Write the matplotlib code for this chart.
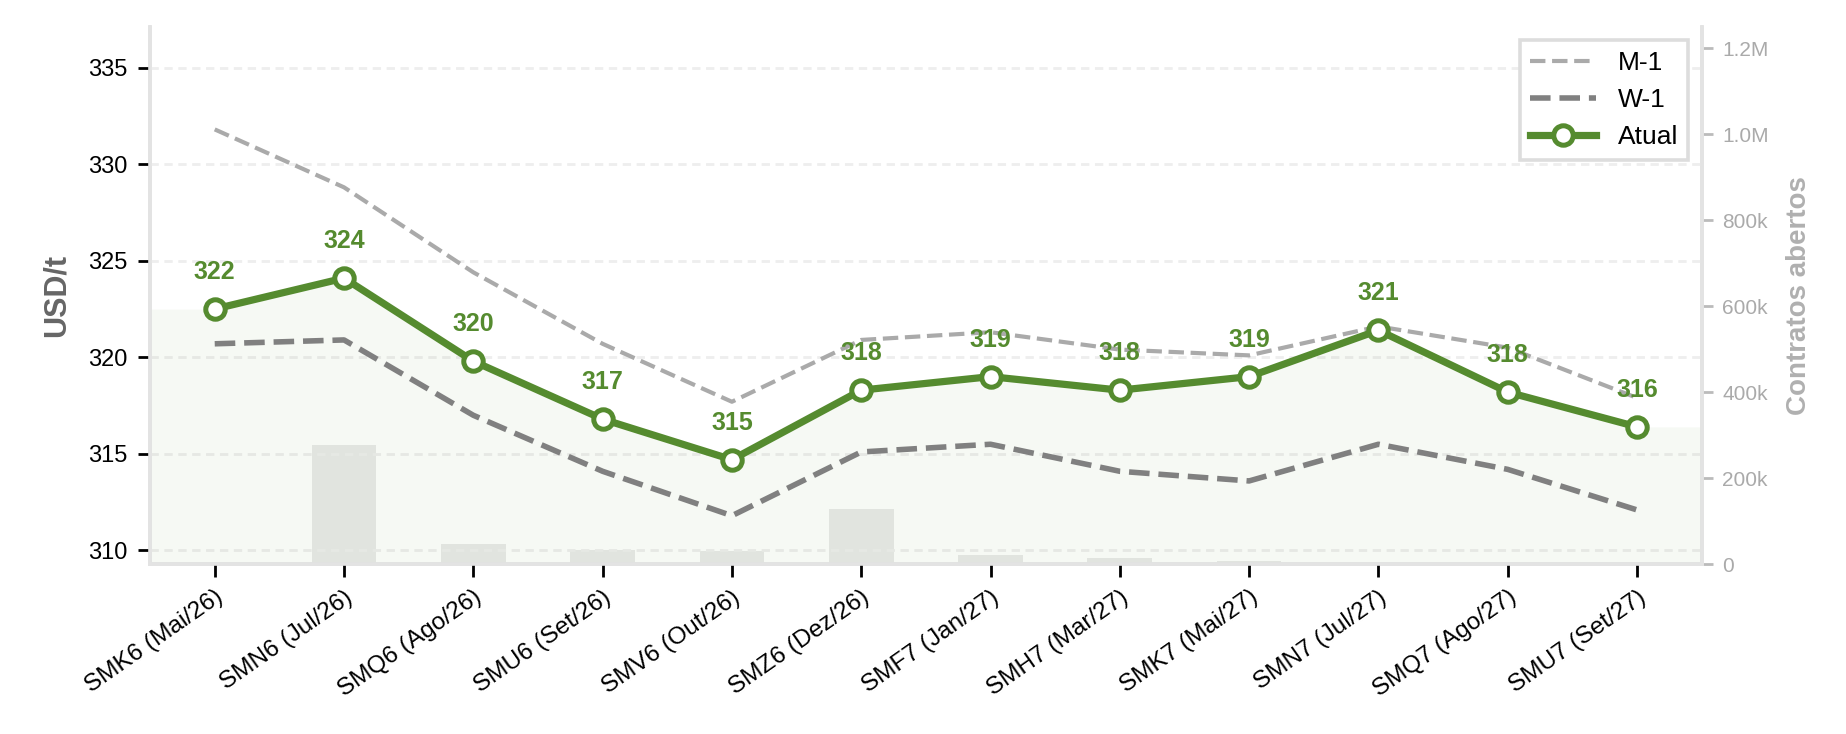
import numpy as np
import matplotlib
matplotlib.use("Agg")
from matplotlib import pyplot as plt
from matplotlib.ticker import FuncFormatter, MultipleLocator

plt.rcParams['font.family'] = ['Liberation Sans', 'DejaVu Sans']

contratos = ["SMK6 (Mai/26)", "SMN6 (Jul/26)", "SMQ6 (Ago/26)", "SMU6 (Set/26)",
             "SMV6 (Out/26)", "SMZ6 (Dez/26)", "SMF7 (Jan/27)", "SMH7 (Mar/27)",
             "SMK7 (Mai/27)", "SMN7 (Jul/27)", "SMQ7 (Ago/27)", "SMU7 (Set/27)"]
atual = [322.5, 324.1, 319.8, 316.8, 314.7, 318.3, 319.0, 318.3, 319.0, 321.4, 318.2, 316.4]
w1 = [320.7, 320.9, 317.0, 314.1, 311.8, 315.1, 315.5, 314.1, 313.6, 315.5, 314.2, 312.1]
m1 = [331.8, 328.8, 324.4, 320.7, 317.7, 320.9, 321.3, 320.4, 320.1, 321.6, 320.5, 317.9]
open_int = [0, 277e3, 46e3, 33e3, 30e3, 128e3, 22e3, 15e3, 6e3, 0, 0, 0]

green = "#558B2F"
x = np.arange(len(contratos))

fig = plt.figure(figsize=(9.23, 3.67), dpi=200)
ax = fig.add_axes([0.0813, 0.2316, 0.8405, 0.7316])
ax2 = ax.twinx()

# open interest bars behind the price lines
ax2.bar(x, open_int, width=0.5, color="#d0d0d0", alpha=0.45, zorder=1)
ax2.set_ylim(0, 1.25e6)
ax2.yaxis.set_major_locator(MultipleLocator(200e3))
ax2.yaxis.set_major_formatter(FuncFormatter(
    lambda v, p: "0" if v == 0 else (f"{v/1e6:.1f}M" if v >= 1e6 else f"{v/1e3:.0f}k")))
ax2.tick_params(axis="y", colors="#bbbbbb", labelcolor="#aaaaaa", labelsize=7.5,
                length=4, width=1)
ax2.set_ylabel("Contratos abertos", color="#b0b0b0", fontsize=10, fontweight="bold",
               labelpad=6)

ax.set_zorder(ax2.get_zorder() + 1)
ax.patch.set_visible(False)

xlo, xhi = -0.5, len(x) - 0.5
ymin, ymax = 309.3, 337.1
fx = np.concatenate([[xlo], x, [xhi]])
fy = np.concatenate([[atual[0]], atual, [atual[-1]]])
ax.fill_between(fx, fy, ymin, color=green, alpha=0.05, linewidth=0, zorder=1)

ax.plot(x, m1, color="#aaaaaa", lw=1.5, ls="--", label="M-1", zorder=2)
ax.plot(x, w1, color="#808080", lw=2.0, ls="--", label="W-1", zorder=2)
ax.plot(x, atual, color=green, lw=2.6, marker="o", ms=7, mfc="white", mec=green,
        mew=1.8, label="Atual", zorder=3)

for xi, v in zip(x, atual):
    ax.annotate(f"{v:.0f}", (xi, v), xytext=(0, 9), textcoords="offset points",
                ha="center", va="bottom", color=green, fontsize=9, fontweight="bold")

ax.set_xlim(xlo, xhi)
ax.set_ylim(ymin, ymax)
ax.yaxis.set_major_locator(MultipleLocator(5))
ax.set_xticks(x)
ax.set_xticklabels(contratos, rotation=35, ha="right", rotation_mode="anchor", fontsize=8.8)
ax.tick_params(axis="both", length=4.5, width=1, colors="black")
ax.tick_params(axis="y", labelsize=8.5)
ax.set_ylabel("USD/t", color="#666666", fontsize=11, fontweight="bold", labelpad=6)
ax.grid(axis="y", color="#eeeeee", lw=1, ls=(0, (3, 2)))
ax.set_axisbelow(True)

for a in (ax, ax2):
    a.spines["top"].set_visible(False)
    for s in ("left", "right", "bottom"):
        a.spines[s].set_color("#e3e3e3")
        a.spines[s].set_linewidth(1.3)

leg = ax.legend(loc="upper right", fontsize=9.5, frameon=True, fancybox=False,
                handlelength=2.5, borderaxespad=0.5)
leg.get_frame().set_edgecolor("#dddddd")
leg.get_frame().set_linewidth(1.3)
leg.get_frame().set_alpha(1)

fig.savefig("out.png", dpi=200)
